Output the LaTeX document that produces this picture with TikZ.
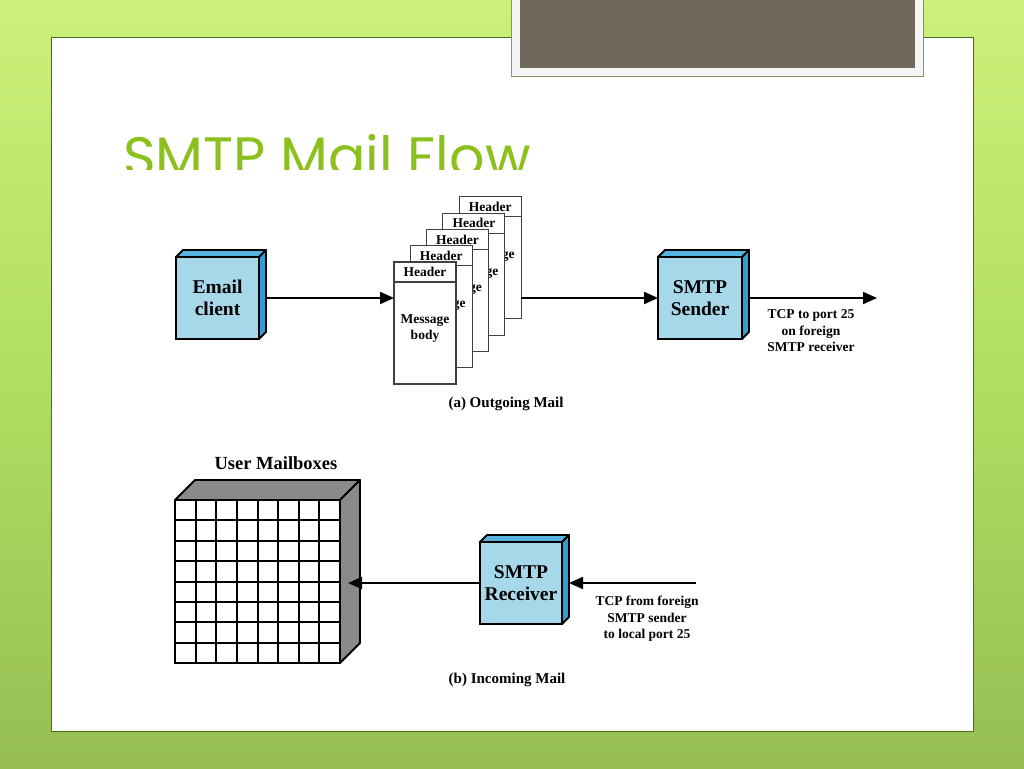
\documentclass[tikz,border=0pt]{standalone}
\usepackage{fontspec}
\setmainfont{Liberation Serif}
\newfontfamily\titlefont{Poppins}
\usepackage{tikz}
\usetikzlibrary{positioning,arrows.meta,calc}
\definecolor{slidetop}{RGB}{204,240,122}
\definecolor{slidemid}{RGB}{176,222,96}
\definecolor{slidebot}{RGB}{150,190,84}
\definecolor{panelline}{RGB}{74,110,30}
\definecolor{titlegreen}{RGB}{140,192,28}
\definecolor{photogray}{RGB}{112,104,91}
\definecolor{frontblue}{RGB}{166,216,233}
\definecolor{topblue}{RGB}{88,180,222}
\definecolor{sideblue}{RGB}{52,156,208}
\definecolor{mboxgray}{RGB}{138,138,138}
\tikzset{
  bluebox/.style={draw,fill=frontblue,line width=1.8pt,inner sep=0pt,outer sep=0pt,
    align=center,font=\fontsize{19.5}{22.5}\selectfont\bfseries},
  sheet/.style={draw=black!75,fill=white,line width=1.1pt,anchor=north west,
    minimum width=62pt,minimum height=122pt,inner sep=0pt,outer sep=0pt},
  sheettext/.style={align=center,font=\fontsize{13.5}{16}\selectfont\bfseries},
  note/.style={align=center,font=\fontsize{13.5}{16.5}\selectfont\bfseries},
  caption/.style={font=\fontsize{15}{18}\selectfont\bfseries},
  flow/.style={line width=2pt,-{Triangle[length=14pt,width=12pt]}},
}
% top and side faces of a solid box
\newcommand{\boxfaces}[4]{%
  \filldraw[fill=#3,line width=1.8pt,line join=round] (#1.north west) -- ++(#2,-#2)
    -- ([shift={(#2,-#2)}]#1.north east) -- (#1.north east) -- cycle;
  \filldraw[fill=#4,line width=1.8pt,line join=round] (#1.north east) -- ++(#2,-#2)
    -- ([shift={(#2,-#2)}]#1.south east) -- (#1.south east) -- cycle;
}
\begin{document}
\begin{tikzpicture}[x=1pt,y=-1pt]
  \useasboundingbox (0,0) rectangle (1024,768);
  % slide
  \shade[top color=slidetop,bottom color=slidebot,middle color=slidemid] (0,0) rectangle (1024,768);
  \filldraw[fill=white,draw=panelline,line width=0.8pt] (51,37) rectangle (973,731);
  \filldraw[fill=black!4,draw=panelline!70,line width=0.8pt] (511,-2) rectangle (923,76);
  \fill[photogray] (520,-2) rectangle (915,68);
  \begin{scope}
    \clip (0,0) rectangle (1024,169);
    \node[text=titlegreen,font=\fontsize{55.5}{58}\titlefont,anchor=base west,inner sep=0pt] (title)
      at (123,176) {SMTP Mail Flow};
  \end{scope}

  % (a) outgoing
  \node[bluebox,minimum width=83pt,minimum height=82pt] (email) at (217.5,298) {Email\\client};
  \boxfaces{email}{7}{topblue}{sideblue}
  \foreach \i in {4,3,2,1,0}{
    \node[sheet] (sheet\i) at ({394+16.3*\i},{262-16.3*\i}) {};
    \draw[black!75,line width=1.1pt] ([yshift=-20pt]sheet\i.north west) -- ([yshift=-20pt]sheet\i.north east);
    \node[sheettext] at ([yshift=-10pt]sheet\i.north) {Header};
    \node[sheettext] at ([yshift=-6pt]sheet\i.center) {Message\\body};
  }
  \node[bluebox,minimum width=84pt,minimum height=82pt] (sender) at (700,298) {SMTP\\Sender};
  \boxfaces{sender}{7}{topblue}{sideblue}
  \coordinate (outport) at (877,298);
  \draw[flow] ([xshift=7pt]email.east) -- (sheet0.west |- email.east);
  \draw[flow] (sheet4.east |- sender.west) -- (sender.west);
  \draw[flow] ([xshift=7pt]sender.east) -- (outport);
  \node[note] (tcpout) at (811,331) {TCP to port 25\\on foreign\\SMTP receiver};
  \node[caption] (capa) at (506,404) {(a) Outgoing Mail};

  % (b) incoming
  \node[draw,fill=white,line width=1.8pt,minimum width=165pt,minimum height=163pt,
    inner sep=0pt,outer sep=0pt] (mbox) at (257.5,581.5) {};
  \foreach \k in {1,...,7}{
    \draw[line width=2pt] ($(mbox.north west)!\k/8!(mbox.north east)$) -- ($(mbox.south west)!\k/8!(mbox.south east)$);
    \draw[line width=2pt] ($(mbox.north west)!\k/8!(mbox.south west)$) -- ($(mbox.north east)!\k/8!(mbox.south east)$);
  }
  \boxfaces{mbox}{20}{mboxgray}{mboxgray}
  \node[caption,font=\fontsize{18.5}{20}\selectfont\bfseries] (mboxlabel) at (276,463) {User Mailboxes};
  \node[bluebox,minimum width=82pt,minimum height=82pt] (receiver) at (521,583) {SMTP\\Receiver};
  \boxfaces{receiver}{7}{topblue}{sideblue}
  \coordinate (inport) at (696,583);
  \draw[flow] (inport) -- ([xshift=7pt]receiver.east);
  \draw[flow] (receiver.west) -- ([xshift=8pt]mbox.east |- receiver.west);
  \node[note] (tcpin) at (647,619) {TCP from foreign\\SMTP sender\\to local port 25};
  \node[caption] (capb) at (507,680) {(b) Incoming Mail};
\end{tikzpicture}
\end{document}
